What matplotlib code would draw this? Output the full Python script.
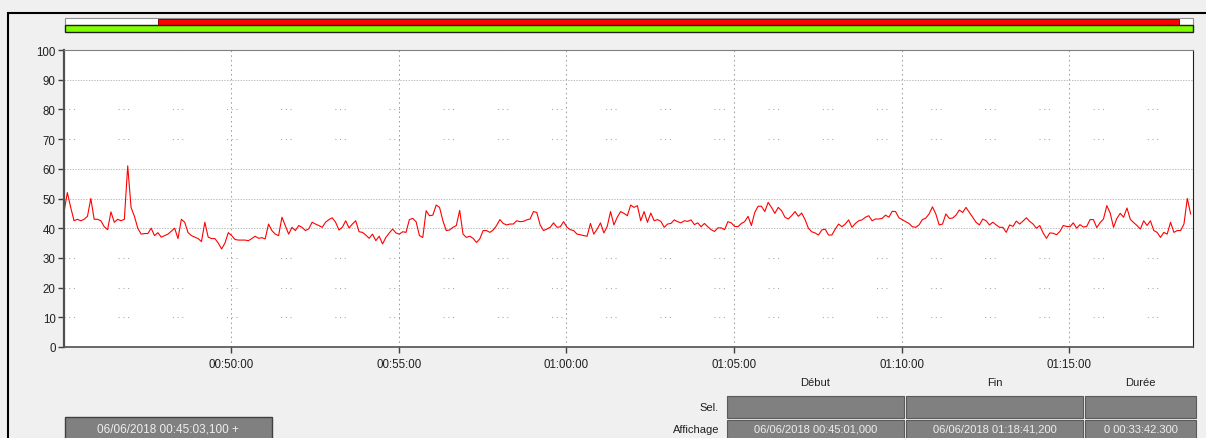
import numpy as np
import matplotlib
matplotlib.use("Agg")
import matplotlib.pyplot as plt
from matplotlib.patches import Rectangle
from matplotlib.ticker import FuncFormatter

plt.rcParams['font.family'] = ['Liberation Sans', 'DejaVu Sans']

# one sample every 6 s, starting 00:45:01 (seconds since midnight)
start_s = 45 * 60 + 1
step_s = 6
end_s = 3600 + 18 * 60 + 41.2

# values, one list per ~5 min window
vals_0045 = [45.5, 52, 47, 42.5, 43, 42.5, 43, 44, 50, 43,
             43, 42.5, 40.5, 39.5, 45.5, 42, 43, 42.5, 43, 61,
             47, 44, 40, 38, 38.2, 38.2, 40, 37.5, 38.5, 37,
             37.5, 38, 39, 40, 36.5, 43, 42, 38.5, 37.5, 37,
             36.5, 35.5, 42, 37, 36.5, 36.5, 35, 33, 35, 38.5,
             37.5, 36.2, 36, 36, 36, 35.8, 36.5]
vals_0050 = [37.3, 36.6, 36.8, 36.4, 41.4, 39.2, 38, 37.5, 43.7, 40.9,
             38, 40.3, 39.2, 40.9, 40.3, 39.2, 39.8, 42, 41.4, 40.9,
             40.3, 42, 42.9, 43.5, 42, 39.4, 40.3, 42.5, 40.1, 41.4,
             42.5, 38.8, 38.6, 37.7, 36.6, 38, 35.8, 37.3, 34.7, 36.9,
             38.4, 39.7, 38.4, 38, 38.8, 38.6, 42.9, 43.3, 42.2, 37.5,
             36.9, 45.9, 44.2, 44.4, 47.8, 47]
vals_0056 = [42.5, 39.2, 39.4, 40.3, 40.9, 46, 38, 36.9, 37.3, 36.6,
             35.2, 36.4, 39.2, 39.2, 38.6, 39.4, 40.9, 42.9, 41.6, 41.1,
             41.4, 41.4, 42.5, 42.2, 42.3, 42.8, 43.1, 45.6, 45.3, 41.1,
             39.2, 39.7, 40.3, 41.8, 40.3, 40.5, 42.2, 40.3, 39.5, 39.2,
             38, 37.8, 37.5, 37.3, 41.6, 38, 39.7, 41.8, 38.4, 40.6,
             45.6, 41.1, 43.7, 45.6, 45, 44.2]
vals_0101 = [47.8, 47, 47.6, 42.5, 45.6, 42, 45.1, 42.5, 42.9, 42.3,
             40.3, 41.4, 41.6, 42.8, 42.2, 41.8, 42.5, 42.3, 42.8, 41.2,
             41.8, 40.5, 41.6, 40.5, 39.5, 38.9, 40.1, 40.1, 39.5, 42.2,
             41.8, 40.6, 40.5, 41.6, 42.2, 44, 40.9, 45.3, 47.4, 47.4,
             45.6, 48.7, 47, 45, 47, 45.9, 43.7, 43.1, 44.2, 45.6,
             44, 45.1, 42.9, 40, 38.8, 38.4]
vals_0107 = [37.7, 39.4, 39.7, 37.7, 37.7, 39.7, 41.4, 40.5, 41.4, 42.8,
             40.3, 41.6, 42.5, 42.8, 43.7, 44.2, 42.5, 43.1, 43.1, 43.3,
             44.4, 43.7, 45.7, 45.6, 43.5, 42.9, 42.2, 41.6, 40.5, 40.3,
             41.1, 42.9, 43.4, 44.8, 47.2, 44.8, 41.1, 41.4, 44.8, 43.3,
             43.4, 44.4, 46.1, 45.3, 47, 45.3, 43.7, 42, 41.1, 43.1,
             42.5, 41.1, 42, 41.1, 40.3, 40.3]
vals_0113 = [38.6, 41.1, 40.6, 42.4, 41.4, 42.4, 43.5, 42.3, 41.4, 40,
             40.9, 38.4, 36.6, 38.4, 38.3, 37.8, 38.9, 40.9, 40.6, 40.5,
             41.8, 40, 41.2, 40.4, 40.6, 42.9, 42.9, 40.2, 41.9, 43.1,
             47.6, 45.1, 40.3, 43.3, 45, 43.7, 46.8, 43, 41.9, 40.9,
             39.7, 42.5, 40.9, 42.5, 39.2, 38.6, 36.9, 38.6, 38, 42,
             38.6, 39.2, 39.2, 41.4, 50, 44.8]

y_ticks = list(range(0, 101, 10))
dense_rows = [40, 50, 60, 90]   # these grid rows are drawn tight-dotted, the rest sparse
x_ticks = [50 * 60, 55 * 60, 60 * 60, 65 * 60, 70 * 60, 75 * 60]

col_titles = ["Début", "Fin", "Durée"]
row_titles = ["Sel.", "Affichage"]
shown_cells = ["06/06/2018 00:45:01,000", "06/06/2018 01:18:41,200", "0 00:33:42.300"]
cursor_text = "06/06/2018 00:45:03,100 +"

values = np.array(vals_0045 + vals_0050 + vals_0056 + vals_0101 + vals_0107 + vals_0113)
times = start_s + step_s * np.arange(len(values))

W, H = 1206, 439
bg = '#f0f0f0'
fig = plt.figure(figsize=(W / 100, H / 100), dpi=100, facecolor=bg)

# pixel-space layer for the window furniture
ui = fig.add_axes([0, 0, 1, 1], zorder=0)
ui.set_xlim(0, W)
ui.set_ylim(H, 0)
ui.axis('off')


def box(x0, y0, x1, y1, **kw):
    ui.add_patch(Rectangle((x0, y0), x1 - x0, y1 - y0, **kw))


ui.plot([8, 8, W], [H, 14, 14], color='black', lw=1.5, solid_joinstyle='miter')

# overview bar
box(65, 19, 1193, 26, fc='white', ec='#909090', lw=0.8)
box(158, 19.5, 1179, 26, fc='#ff0000', ec='#8a0000', lw=0.7)
box(65, 26, 1193, 32.5, fc='#80ff00', ec='#202020', lw=1.0)

# main chart
ax = fig.add_axes([64 / W, (H - 348) / H, (1193 - 64) / W, (348 - 51) / H], zorder=1)
ax.set_facecolor('white')
ax.set_xlim(start_s, end_s)
ax.set_ylim(0, 100)
ax.set_yticks(y_ticks)
ax.set_xticks(x_ticks)

for yv in y_ticks[1:]:
    if yv in dense_rows:
        ax.axhline(yv, color='#bdbdbd', lw=0.75, ls=(0, (1.3, 1.3)), zorder=0)
    else:
        ax.axhline(yv, color='#a6a6a6', lw=0.75, ls=(0, (1, 3.5, 1, 3.5, 1, 42)), zorder=0)
for xv in x_ticks:
    ax.axvline(xv, color='#a0a0a0', lw=0.75, ls=(0, (1.5, 3)), zorder=0)

ax.plot(times, values, color='#ff0000', lw=0.8, zorder=2)


def hms(s, _):
    s = int(round(s))
    return f"{s // 3600:02d}:{s % 3600 // 60:02d}:{s % 60:02d}"


ax.xaxis.set_major_formatter(FuncFormatter(hms))
ax.tick_params(length=4, width=1, color='#404040', labelsize=8.3, labelcolor='#202020', pad=2)
ax.tick_params(axis='x', pad=4)
ax.spines['left'].set_color('#505050')
ax.spines['left'].set_linewidth(1.6)
ax.spines['bottom'].set_color('#505050')
ax.spines['bottom'].set_linewidth(1.2)
ax.spines['top'].set_color('#808080')
ax.spines['right'].set_color('#202020')

# selection / display table
cols = [(727, 904), (906, 1083), (1085, 1196)]
rows = [(397, 419), (421, 445)]
for (x0, x1), title in zip(cols, col_titles):
    ui.text((x0 + x1) / 2, 383, title, ha='center', va='center', fontsize=8, color='#202020')
for (y0, y1), title in zip(rows, row_titles):
    ui.text(719, (y0 + y1) / 2 if y1 < H else 430, title, ha='right', va='center',
            fontsize=8, color='#202020')
    for x0, x1 in cols:
        box(x0, y0, x1, y1, fc='#808080', ec='#5a5a5a', lw=0.8)
for (x0, x1), txt in zip(cols, shown_cells):
    ui.text((x0 + x1) / 2, 430, txt, ha='center', va='center', fontsize=8, color='#eeeeee')

box(65, 418, 272, 445, fc='#808080', ec='#404040', lw=1.0)
ui.text(168, 430, cursor_text, ha='center', va='center', fontsize=8.5, color='#eeeeee')

fig.savefig('out.png', dpi=100, facecolor=bg)
